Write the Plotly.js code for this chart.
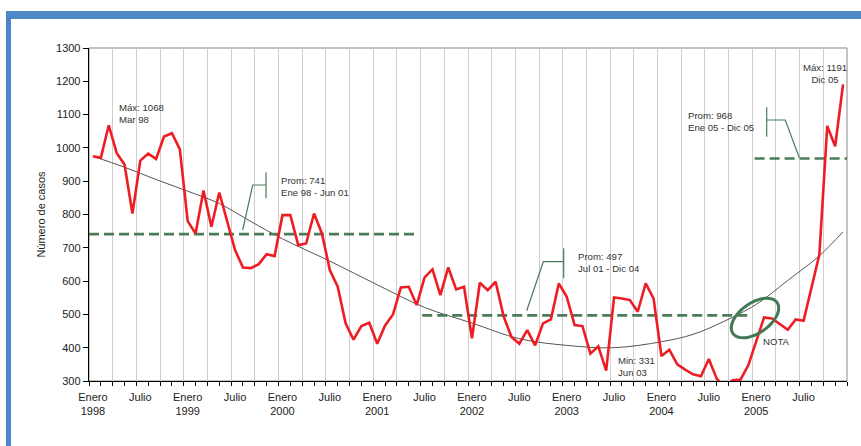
<!DOCTYPE html>
<html><head><meta charset="utf-8">
<script src="https://cdn.plot.ly/plotly-3.0.1.min.js"></script>
<style>html,body{margin:0;padding:0;background:#fff;} #chart{width:861px;height:446px;}</style>
</head><body><div id="chart"></div>
<script>
// Monthly cases, Jan 1998 .. Dec 2005 (96 months)
const casos = [
  975, 970, 1068, 985, 950, 803, 962, 983, 967, 1034, 1044, 996,
  780, 743, 872, 763, 866, 783, 693, 641, 639, 651, 681, 675,
  798, 798, 708, 713, 803, 743, 633, 583, 473, 424, 465, 475,
  412, 467, 500, 581, 583, 528, 611, 635, 558, 641, 575, 583,
  428, 595, 573, 598, 495, 432, 412, 453, 407, 473, 485, 593,
  553, 468, 465, 382, 404, 331, 551, 548, 543, 508, 593, 548,
  375, 394, 350, 334, 320, 314, 366, 307, 280, 302, 304, 347,
  420, 491, 488, 470, 454, 485, 481, 580, 680, 1066, 1005, 1191
];
const labelMonths = [0,6,12,18,24,30,36,42,48,54,60,66,72,78,84,90];
const labelText = ['Enero','Julio','Enero','Julio','Enero','Julio','Enero','Julio',
                   'Enero','Julio','Enero','Julio','Enero','Julio','Enero','Julio'];
const yearMonths = [0,12,24,36,48,60,72,84];
const yearText = ['1998','1999','2000','2001','2002','2003','2004','2005'];
const trendMonths = [0,4,8,12,16,20,24,30,36,42,48,54,60,66,72,76,80,84,88,92,95];
const trendValues = [975,942,905,870,833,779,727,660,589,521,474,427,407,400,418,440,480,530,602,676,748];
const avgValues = [741, 497, 968];
const avgFrom = [-0.5, 41.7, 83.8];
const avgTo = [41.2, 83, 95.5];
const yTicks = [300,400,500,600,700,800,900,1000,1100,1200,1300];

const FONT = 'Liberation Sans, Arial, sans-serif';
const GREEN = '#4a7c59';
const months = casos.map((_, i) => i);

const traces = [];
traces.push({x: trendMonths, y: trendValues, mode: 'lines', line: {color: '#555', width: 1, shape: 'spline'}, hoverinfo: 'skip'});
avgValues.forEach((v, k) => {
  traces.push({x: [avgFrom[k], avgTo[k]], y: [v, v], mode: 'lines',
    line: {color: GREEN, width: 2.6, dash: '10px,5px'}, hoverinfo: 'skip'});
});
traces.push({x: months, y: casos, mode: 'lines', line: {color: '#ee1d24', width: 2.6}, cliponaxis: true});
traces.push({x: [], y: [], xaxis: 'x2', yaxis: 'y', mode: 'lines'});

// plot area in pixels (for decoration placement)
const PL = 89, PR = 847, PT = 48, PB = 381;
const fx = px => (px - PL) / (PR - PL);
const fy = py => (PB - py) / (PB - PT);
const dx = px => (px - PL) / ((PR - PL) / 96) - 0.5;
const dy = py => 1300 - (py - PT) / ((PB - PT) / 1000);

// ellipse ("NOTA")
const ecx = 755, ecy = 318, ea = 27, eb = 15, th = 35 * Math.PI / 180;
let ep = '';
for (let k = 0; k <= 48; k++) {
  const t = k / 48 * 2 * Math.PI;
  const px = ecx + ea * Math.cos(t) * Math.cos(th) - eb * Math.sin(t) * Math.sin(th);
  const py = ecy - (ea * Math.cos(t) * Math.sin(th) + eb * Math.sin(t) * Math.cos(th));
  ep += (k === 0 ? 'M ' : ' L ') + dx(px).toFixed(3) + ',' + dy(py).toFixed(2);
}
ep += ' Z';

function callout(pts, bar) {
  // pts: leader polyline in px, bar: [x, y0, y1] in px
  let s = 'M ' + pts.map(p => dx(p[0]).toFixed(3) + ',' + dy(p[1]).toFixed(2)).join(' L ');
  s += ' M ' + dx(bar[0]).toFixed(3) + ',' + dy(bar[1]).toFixed(2) + ' L ' + dx(bar[0]).toFixed(3) + ',' + dy(bar[2]).toFixed(2);
  return s;
}

const BLUE = '#4e86c6';
const shapes = [
  {type: 'rect', xref: 'paper', yref: 'paper', x0: 0, x1: 1, y0: 0, y1: 1, line: {color: '#888', width: 1}, layer: 'below'},
  {type: 'rect', xref: 'paper', yref: 'paper', x0: fx(6), x1: fx(861), y0: fy(11), y1: fy(19), line: {width: 0}, fillcolor: BLUE},
  {type: 'rect', xref: 'paper', yref: 'paper', x0: fx(6), x1: fx(11), y0: fy(11), y1: fy(446), line: {width: 0}, fillcolor: BLUE},
  {type: 'path', xref: 'x', yref: 'y', path: ep, line: {color: '#3f7a55', width: 3}},
  {type: 'path', xref: 'x', yref: 'y', path: callout([[242.7,230],[252.7,185],[266,185]], [266,172.3,198.3]), line: {color: GREEN, width: 1.2}},
  {type: 'path', xref: 'x', yref: 'y', path: callout([[526.7,310.7],[543.3,261.7],[563.7,261.7]], [563.7,248.3,278.3]), line: {color: GREEN, width: 1.2}},
  {type: 'path', xref: 'x', yref: 'y', path: callout([[799.3,157.7],[785.3,120],[766.7,120]], [766.7,107.3,136.7]), line: {color: GREEN, width: 1.2}}
];

const af = {family: FONT, size: 9.6, color: '#333'};
const ann = (px, py, text, xa) => ({xref: 'x', yref: 'y', x: dx(px), y: dy(py), text: text,
  showarrow: false, xanchor: xa || 'left', yanchor: 'middle', align: xa === 'center' ? 'center' : 'left', font: af});
const annotations = [
  ann(116.7, 113.3, 'Máx: 1068<br>Mar 98'),
  ann(279.3, 186, 'Prom: 741<br>Ene 98 - Jun 01'),
  ann(576, 262.3, 'Prom: 497<br>Jul 01 - Dic 04'),
  ann(616, 366, 'Min: 331<br>Jun 03'),
  ann(686, 121, 'Prom: 968<br>Ene 05 - Dic 05'),
  ann(825, 73.3, 'Máx: 1191<br>Dic 05', 'center'),
  ann(776.7, 341.7, 'NOTA', 'center')
];

const tf = {family: FONT, size: 11, color: '#222'};
const layout = {
  width: 861, height: 446,
  margin: {l: PL, r: 861 - PR, t: PT, b: 446 - PB, pad: 0},
  paper_bgcolor: '#fff', plot_bgcolor: '#fff',
  showlegend: false,
  font: {family: FONT},
  xaxis: {range: [-0.5, 95.5], tickmode: 'array', tickvals: labelMonths, ticktext: labelText,
    ticks: '', showgrid: false, zeroline: false, showline: true, linecolor: '#000', linewidth: 1.3,
    tickfont: tf, ticklabelstandoff: 5,
    minor: {tick0: -0.5, dtick: 3, showgrid: true, gridcolor: '#cfcfcf', gridwidth: 1, ticks: ''}},
  xaxis2: {range: [-0.5, 95.5], overlaying: 'x', anchor: 'y', side: 'bottom', tickmode: 'array',
    tickvals: yearMonths, ticktext: yearText, ticks: '', showgrid: false, zeroline: false, showline: false,
    tickfont: tf, ticklabelstandoff: 22,
    minor: {tick0: -0.5, dtick: 1.5, ticks: 'outside', ticklen: 4, tickcolor: '#000', tickwidth: 1, showgrid: false}},
  yaxis: {range: [300, 1300], tickmode: 'array', tickvals: yTicks, ticks: 'outside', ticklen: 5,
    tickcolor: '#000', showgrid: false, zeroline: false, showline: true, linecolor: '#000', linewidth: 1.3,
    tickfont: tf, title: {text: 'Número de casos', font: tf, standoff: 8}},
  shapes: shapes,
  annotations: annotations
};

Plotly.newPlot('chart', traces, layout, {displayModeBar: false, staticPlot: true});
</script></body></html>
